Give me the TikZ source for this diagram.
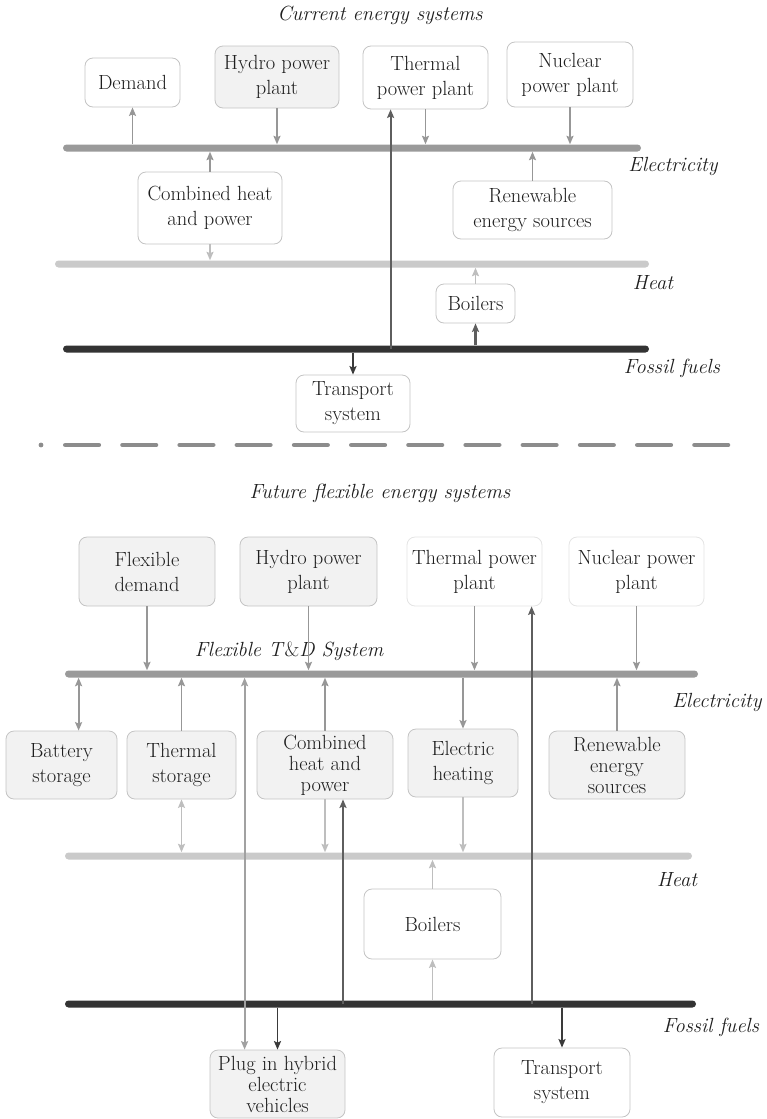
\documentclass[tikz,border=0pt]{standalone}
\usepackage{fontspec}
\usetikzlibrary{arrows.meta,calc}

\definecolor{boxline}{HTML}{C4C4C4}
\definecolor{faintline}{HTML}{E4E4E4}
\definecolor{boxfill}{HTML}{F2F2F2}
\definecolor{elecbar}{HTML}{9A9A9A}
\definecolor{heatbar}{HTML}{CACACA}
\definecolor{fossilbar}{HTML}{333333}
\definecolor{elecarrow}{HTML}{979797}
\definecolor{heatarrow}{HTML}{BEBEBE}
\definecolor{fossilarrow}{HTML}{3A3A3A}
\definecolor{midarrow}{HTML}{5E5E5E}
\definecolor{sepline}{HTML}{8C8C8C}
\definecolor{ink}{HTML}{1E1E1E}

\begin{document}
\begin{tikzpicture}[x=1pt,y=-1pt,
  txt/.style={font=\fontsize{20.5}{25}\selectfont, text=ink},
  tight/.style={font=\fontsize{20.5}{21}\selectfont},
  box/.style={txt, draw=boxline, line width=0.8pt, rounded corners=8pt,
    align=center, inner sep=0pt},
  greybox/.style={box, fill=boxfill},
  whitebox/.style={box, fill=white},
  faintbox/.style={box, draw=faintline, fill=white},
  sz/.style 2 args={minimum width=#1pt, minimum height=#2pt},
  bar/.style={inner sep=0pt, minimum height=7pt, rounded corners=3.5pt},
  lab/.style={font=\fontsize{20.5}{25}\selectfont\itshape, text=ink, inner sep=0pt},
  tip/.style={-{Stealth[length=8.5pt,width=7pt,inset=1.5pt]}},
  twotip/.style={{Stealth[length=8.5pt,width=7pt,inset=1.5pt]}-{Stealth[length=8.5pt,width=7pt,inset=1.5pt]}},
  ea/.style={draw=elecarrow, line width=1.8pt},
  ha/.style={draw=heatarrow, line width=1.8pt},
  fa/.style={draw=fossilarrow, line width=1.9pt},
  ma/.style={draw=midarrow, line width=2.2pt},
]
\useasboundingbox (0,0) rectangle (766,1119);

% ---------------- current energy systems ----------------
\node[lab] (title1) at (380,15) {Current energy systems};

\node[whitebox, sz={95}{49}]  (demand1)  at (132.5,82.5) {Demand};
\node[greybox,  sz={124}{62}] (hydro1)   at (277,77)     {Hydro power\\plant};
\node[whitebox, sz={125}{63}] (thermal1) at (425.5,77.5) {Thermal\\power plant};
\node[whitebox, sz={126}{65}] (nuclear1) at (570,74.5)   {Nuclear\\power plant};
\node[whitebox, sz={144}{72}] (chp1)     at (210,208)    {Combined heat\\and power};
\node[whitebox, sz={159}{58}] (ren1)     at (532.5,210)  {Renewable\\energy sources};
\node[whitebox, sz={79}{39}]  (boil1)    at (475.5,303.5){Boilers};
\node[whitebox, sz={114}{57}] (trans1)   at (353,403.5)  {Transport\\system};

\node[bar, fill=elecbar,   minimum width=578pt] (elec1)   at (352,148) {};
\node[bar, fill=heatbar,   minimum width=594pt] (heat1)   at (352,264) {};
\node[bar, fill=fossilbar, minimum width=586pt] (fossil1) at (356,349) {};

\node[lab] (elab1) at (673,166) {Electricity};
\node[lab] (hlab1) at (653,283) {Heat};
\node[lab] (flab1) at (672,368) {Fossil fuels};

\draw[ea,tip] (demand1.south |- elec1.north) -- (demand1.south);
\draw[ea,tip] (hydro1.south) -- (hydro1.south |- elec1.north);
\draw[ea,tip] (thermal1.south) -- (thermal1.south |- elec1.north);
\draw[ea,tip] (nuclear1.south) -- (nuclear1.south |- elec1.north);
\draw[ea,tip] (chp1.north) -- (chp1.north |- elec1.south);
\draw[ea,tip] (ren1.north) -- (ren1.north |- elec1.south);
\draw[ha,tip] (chp1.south) -- (chp1.south |- heat1.north);
\draw[ha,tip] (boil1.north) -- (boil1.north |- heat1.south);
\draw[ma,tip] (boil1.south |- fossil1.north) -- (boil1.south);
\draw[fa,tip] (trans1.north |- fossil1.south) -- (trans1.north);
\coordinate (t1in) at ($(thermal1.south west)+(28,0)$);
\draw[ma,tip] (t1in |- fossil1.center) -- (t1in);

% separator
\fill[sepline] (41,445) circle (2.4pt);
\draw[sepline, line width=4.6pt, line cap=round,
  dash pattern=on 33.5pt off 23.7pt] (65.3,445) -- (730,445);

% ---------------- future flexible energy systems ----------------
\node[lab] (title2) at (380,493) {Future flexible energy systems};

\node[greybox,  sz={136}{69}] (flexdem)  at (147,571.5)   {Flexible\\demand};
\node[greybox,  sz={137}{69}] (hydro2)   at (308.5,571.5) {Hydro power\\plant};
\node[faintbox, sz={135}{69}] (thermal2) at (474.5,571.5) {Thermal power\\plant};
\node[faintbox, sz={135}{69}] (nuclear2) at (636.5,571.5) {Nuclear power\\plant};

\node[lab] (tdlab) at (289,651) {Flexible T\textup{\&}D System};

\node[greybox, sz={111}{68}] (battery) at (61.5,765)  {Battery\\storage};
\node[greybox, sz={109}{68}] (tstor)   at (181.5,765) {Thermal\\storage};
\node[greybox, sz={136}{68}, tight] (chp2) at (325,765) {Combined\\heat and\\power};
\node[greybox, sz={110}{68}] (eheat)   at (463,763)   {Electric\\heating};
\node[greybox, sz={136}{68}, tight] (ren2) at (617,765) {Renewable\\energy\\sources};
\node[whitebox, sz={137}{70}] (boil2)  at (432.5,924)  {Boilers};
\node[greybox, sz={135}{68}, tight] (phev) at (277.5,1084) {Plug in hybrid\\electric\\vehicles};
\node[whitebox, sz={136}{69}] (trans2) at (562,1082.5) {Transport\\system};

\node[bar, fill=elecbar,   minimum width=633pt] (elec2)   at (381.5,674) {};
\node[bar, fill=heatbar,   minimum width=627pt] (heat2)   at (378.5,856) {};
\node[bar, fill=fossilbar, minimum width=631pt] (fossil2) at (380.5,1004) {};

\node[lab] (elab2) at (717,702)  {Electricity};
\node[lab] (hlab2) at (677,880)  {Heat};
\node[lab] (flab2) at (711,1027) {Fossil fuels};

% supply into the electricity bus
\draw[ea,tip] (flexdem.south) -- (flexdem.south |- elec2.north);
\draw[ea,tip] (hydro2.south) -- (hydro2.south |- elec2.north);
\draw[ea,tip] (thermal2.south) -- (thermal2.south |- elec2.north);
\draw[ea,tip] (nuclear2.south) -- (nuclear2.south |- elec2.north);

% below the electricity bus
\coordinate (batx) at ($(battery.north west)+(73,0)$);
\draw[ea,twotip] (batx |- elec2.south) -- (batx);
\draw[ea,tip] (tstor.north) -- (tstor.north |- elec2.south);
\draw[ea,tip] (chp2.north) -- (chp2.north |- elec2.south);
\draw[ea,tip] (eheat.north |- elec2.south) -- (eheat.north);
\draw[ea,tip] (ren2.north) -- (ren2.north |- elec2.south);

% heat bus
\draw[ha,twotip] (tstor.south) -- (tstor.south |- heat2.north);
\draw[ha,tip] (chp2.south) -- (chp2.south |- heat2.north);
\draw[ha,tip] (eheat.south) -- (eheat.south |- heat2.north);
\draw[ha,tip] (boil2.north) -- (boil2.north |- heat2.south);
\draw[ha,tip] (boil2.south |- fossil2.north) -- (boil2.south);

% fossil fuel bus
\coordinate (chpin) at ($(chp2.south)+(18,0)$);
\draw[ma,tip] (chpin |- fossil2.center) -- (chpin);
\coordinate (t2in) at ($(thermal2.south west)+(125,0)$);
\draw[ma,tip] (t2in |- fossil2.center) -- (t2in);
\draw[fa,tip] (phev.north |- fossil2.south) -- (phev.north);
\draw[fa,tip] (trans2.north |- fossil2.south) -- (trans2.north);

% plug-in hybrids exchange with the grid
\coordinate (phevx) at ($(phev.north west)+(35,0)$);
\draw[draw=heatarrow!85!black, line width=1.8pt, twotip] (phevx |- elec2.south) -- (phevx);

\end{tikzpicture}
\end{document}
